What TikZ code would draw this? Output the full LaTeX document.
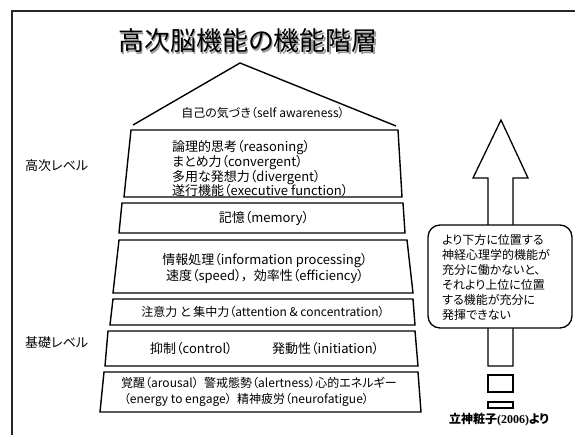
\documentclass[tikz,border=0pt]{standalone}
\usepackage{fontspec}
\setmainfont[RawFeature=+palt]{Noto Sans CJK JP}
\newfontfamily\capserif{Liberation Serif}
\begin{document}
\begin{tikzpicture}[x=1pt,y=-1pt,
  layerbox/.style={draw=black, line width=1.4pt, fill=white, line join=miter},
  txt/.style={inner sep=0pt, font=\fontsize{12}{15}\selectfont},
  bigtxt/.style={inner sep=0pt, font=\fontsize{13}{14.7}\selectfont},
  arrowbox/.style={draw=black, line width=1.3pt, fill=white}]
\useasboundingbox (0,0) rectangle (575,434);
\fill[white] (0,0) rectangle (575,434);
\draw[line width=2.5pt, draw=black!85] (12,440) -- (12,11) -- (580,11);
% title
\node[inner sep=0pt, text=black!40, font=\fontsize{26}{30}\selectfont] (titleshadow) at (249.5,42.5) {高次脳機能の機能階層};
\node[inner sep=0pt, font=\fontsize{26}{30}\selectfont] (title) at (248,41) {高次脳機能の機能階層};
% pyramid
\draw[line width=1.4pt] (133,125) -- (240,63) -- (396,126);
\node[txt] (aware) at (263,113) {自己の気づき（self awareness）};
\draw[layerbox] (131,130) -- (398,130) -- (402,197) -- (124,197) -- cycle;
\node[bigtxt, anchor=west, align=left] (reason) at (172,169) {論理的思考（reasoning）\\まとめ力（convergent）\\多用な発想力（divergent）\\遂行機能（executive function）};
\draw[layerbox] (122,203) -- (403,203) -- (405,233) -- (119,233) -- cycle;
\node[bigtxt] (memory) at (264,218) {記憶（memory）};
\draw[layerbox] (119,240) -- (407,240) -- (413,293) -- (113,293) -- cycle;
\node[bigtxt, align=center, font=\fontsize{13}{16}\selectfont] (info) at (265,268) {情報処理（information processing）\\速度（speed），\ \ 効率性（efficiency）};
\draw[layerbox] (113,299) -- (413,299) -- (415,325) -- (110,325) -- cycle;
\node[txt] (attn) at (263,312) {注意力 と 集中力（attention \& concentration）};
\draw[layerbox] (108,331) -- (415,331) -- (418,366) -- (105,366) -- cycle;
\node[bigtxt, anchor=west] (ctrl) at (150,349) {抑制（control）};
\node[bigtxt, anchor=west] (init) at (272,349) {発動性（initiation）};
\draw[layerbox] (104,372) -- (418,372) -- (421,412) -- (100,412) -- cycle;
\node[txt, anchor=west, align=left, font=\fontsize{12}{16}\selectfont] (base) at (121,392) {覚醒（arousal）\ \ 警戒態勢（alertness）心的エネルギー\\\ （energy to engage）\ \ 精神疲労（neurofatigue）};
% level labels
\node[bigtxt, anchor=west] (high) at (25,166) {高次レベル};
\node[bigtxt, anchor=west] (basic) at (25,343) {基礎レベル};
% arrow
\draw[arrowbox, line join=miter] (488,366) -- (488,178) -- (473,178) -- (501,120) -- (528,178) -- (513,178) -- (513,366) -- cycle;
\draw[arrowbox] (488,375) rectangle (513,392);
\draw[arrowbox] (488,402) rectangle (513,408);
\node[arrowbox, rounded corners=12pt, minimum width=144pt, minimum height=103pt, inner sep=0pt] (note) at (500,276.5) {};
\node[txt, anchor=west, align=left] (notetext) at (442,277.5) {より下方に位置する\\神経心理学的機能が\\充分に働かないと、\\それより上位に位置\\する機能が充分に\\発揮できない};
\node[txt, font=\fontsize{12}{15}\selectfont\bfseries] (cite) at (499,420) {立神粧子{\capserif\bfseries(2006)}より};
\end{tikzpicture}
\end{document}
